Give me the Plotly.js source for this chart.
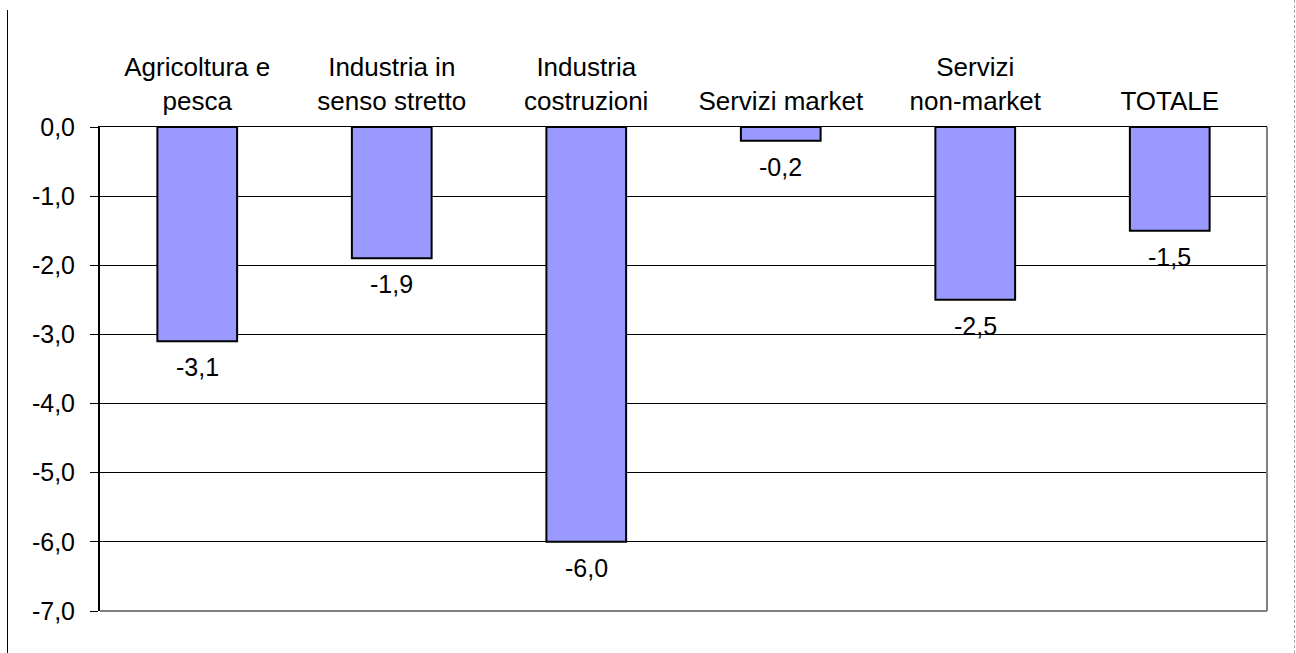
<!DOCTYPE html>
<html><head><meta charset="utf-8">
<script src="https://cdn.plot.ly/plotly-3.0.1.min.js"></script>
<style>
html,body{margin:0;padding:0;background:#fff;}
#wrap{position:relative;width:1296px;height:653px;overflow:hidden;}
#chart{position:absolute;left:0;top:0;width:1296px;height:653px;}
#lb{position:absolute;left:7px;top:10px;height:643px;border-left:1px solid #000;}
#rb{position:absolute;left:1294px;top:0;height:653px;border-left:1px dashed #aaa;}
</style></head>
<body><div id="wrap"><div id="chart"></div><div id="lb"></div><div id="rb"></div></div>
<script>
const categories = ["Agricoltura e<br>pesca", "Industria in<br>senso stretto", "Industria<br>costruzioni", "Servizi market", "Servizi<br>non-market", "TOTALE"];
const values = [-3.1, -1.9, -6.0, -0.2, -2.5, -1.5];
const valueLabels = ["-3,1", "-1,9", "-6,0", "-0,2", "-2,5", "-1,5"];
const yTickValues = [0, -1, -2, -3, -4, -5, -6, -7];
const yTickLabels = ["0,0", "-1,0", "-2,0", "-3,0", "-4,0", "-5,0", "-6,0", "-7,0"];

const fam = "Arial, 'Liberation Sans', sans-serif";
const font = {family: fam, size: 25, color: "#000"};
const catFont = {family: fam, size: 26, color: "#000"};

const annotations = values.map((v, i) => ({
  x: categories[i], y: v, xref: "x", yref: "y",
  text: valueLabels[i], showarrow: false,
  yanchor: "middle", yshift: -26, font: font
}));

Plotly.newPlot("chart", [{
  type: "bar",
  x: categories,
  y: values,
  marker: {color: "#9999FF", line: {color: "#000", width: 2}},
  hoverinfo: "none"
}], {
  width: 1296, height: 653,
  margin: {l: 100, r: 29, t: 127, b: 42},
  paper_bgcolor: "rgba(0,0,0,0)",
  plot_bgcolor: "#fff",
  bargap: 0.59,
  showlegend: false,
  font: font,
  annotations: annotations,
  xaxis: {
    side: "top", showline: true, linecolor: "#000", linewidth: 1,
    ticks: "", tickfont: catFont, showgrid: false, fixedrange: true,
    ticklabelstandoff: 6
  },
  yaxis: {
    range: [-7, 0], tickvals: yTickValues, ticktext: yTickLabels,
    showline: true, linecolor: "#000", linewidth: 2,
    ticks: "outside", ticklen: 8, tickcolor: "#000", tickwidth: 1,
    showgrid: true, gridcolor: "#000", gridwidth: 1,
    zeroline: false, tickfont: font, fixedrange: true,
    ticklabelstandoff: 10
  },
  shapes: [
    {type: "line", xref: "paper", yref: "paper", x0: 0, x1: 1, y0: 0, y1: 0, line: {color: "#808080", width: 2}},
    {type: "line", xref: "paper", yref: "paper", x0: 1, x1: 1, y0: 0, y1: 1, line: {color: "#808080", width: 2}}
  ]
}, {displayModeBar: false, staticPlot: true});
</script></body></html>
